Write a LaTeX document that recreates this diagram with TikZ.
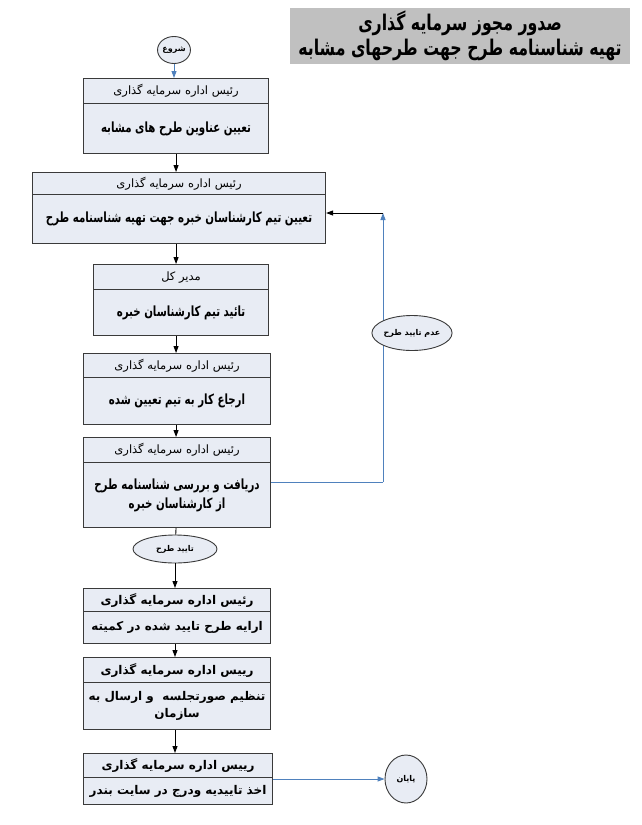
\documentclass[tikz,border=0pt]{standalone}
\usepackage{fontspec}
\newfontfamily\fa[Script=Arabic]{DejaVu Sans}
\newfontfamily\fan[Script=Arabic,FakeStretch=0.73]{DejaVu Sans}
\TeXXeTstate=1
\usetikzlibrary{arrows.meta,shapes.geometric}
\definecolor{boxfill}{HTML}{E8ECF4}
\definecolor{edge}{HTML}{3A3A3A}
\definecolor{flow}{HTML}{4F81BD}
\definecolor{titlegray}{HTML}{C0C0C0}
\newcommand\rl[1]{\beginR #1\endR}
\begin{document}
\begin{tikzpicture}[x=1pt,y=-1pt,
  cell/.style={draw=edge, fill=boxfill, line width=1.1pt, rectangle, inner sep=0pt,
    anchor=north west, align=center},
  hdr/.style={cell, font=\fa\fontsize{11.5}{15}\selectfont},
  hdrb/.style={cell, font=\fa\bfseries\fontsize{12}{15}\selectfont},
  body/.style={cell, font=\fan\bfseries\fontsize{14}{19}\selectfont},
  bodyb/.style={cell, font=\fa\bfseries\fontsize{12}{17}\selectfont},
  oval/.style={ellipse, draw=edge, fill=boxfill, line width=0.9pt, inner sep=0pt,
    font=\fa\bfseries\fontsize{8}{10}\selectfont},
  link/.style={draw=black, line width=0.9pt},
  arr/.style={link, -{Triangle[length=7pt,width=5pt]}},
  blink/.style={draw=flow, line width=0.9pt},
  barr/.style={blink, -{Triangle[length=7pt,width=5pt]}}
]
\useasboundingbox (0,0) rectangle (642,825);
\fill[white] (0,0) rectangle (642,825);

% title
\node[fill=titlegray, minimum width=340pt, minimum height=56pt, inner sep=0pt,
  align=center, font=\fan\bfseries\fontsize{21.6}{25}\selectfont] (title) at (460,36)
  {\rl{صدور مجوز سرمایه گذاری}\\ \rl{تهیه شناسنامه طرح جهت طرحهای مشابه}};

% start
\node[oval, minimum width=28pt, minimum height=27pt] (start) at (174,50) {\rl{شروع}};

% box 1
\node[hdr, minimum width=185pt, minimum height=25pt] (b1h) at (83,78) {\rl{رئیس اداره سرمایه گذاری}};
\node[body, minimum width=185pt, minimum height=50pt] (b1) at (83,103) {\rl{تعیین عناوین طرح های مشابه}};
% box 2
\node[hdr, minimum width=293pt, minimum height=22pt] (b2h) at (32,172) {\rl{رئیس اداره سرمایه گذاری}};
\node[body, minimum width=293pt, minimum height=49pt] (b2) at (32,194) {\rl{تعیین تیم کارشناسان خبره جهت تهیه شناسنامه طرح}};
% box 3
\node[hdr, minimum width=175pt, minimum height=25pt] (b3h) at (93,264) {\rl{مدیر کل}};
\node[body, minimum width=175pt, minimum height=46pt] (b3) at (93,289) {\rl{تائید تیم کارشناسان خبره}};
% box 4
\node[hdr, minimum width=187pt, minimum height=24pt] (b4h) at (83,353) {\rl{رئیس اداره سرمایه گذاری}};
\node[body, minimum width=187pt, minimum height=47pt] (b4) at (83,377) {\rl{ارجاع کار به تیم تعیین شده}};
% box 5
\node[hdr, minimum width=187pt, minimum height=25pt] (b5h) at (83,437) {\rl{رئیس اداره سرمایه گذاری}};
\node[body, minimum width=187pt, minimum height=65pt] (b5) at (83,462) {\rl{دریافت و بررسی شناسنامه طرح}\\ \rl{از کارشناسان خبره}};
% approve oval
\node[oval, minimum width=84pt, minimum height=28pt] (ok) at (175,549) {\rl{تایید طرح}};
% box 6
\node[hdrb, minimum width=187pt, minimum height=23pt] (b6h) at (83,588) {\rl{رئیس اداره سرمایه گذاری}};
\node[bodyb, minimum width=187pt, minimum height=32pt] (b6) at (83,611) {\rl{ارایه طرح تایید شده در کمیته}};
% box 7
\node[hdrb, minimum width=187pt, minimum height=25pt] (b7h) at (83,657) {\rl{رییس اداره سرمایه گذاری}};
\node[bodyb, minimum width=187pt, minimum height=47pt] (b7) at (83,682) {\rl{تنظیم صورتجلسه \ و ارسال به}\\ \rl{سازمان}};
% box 8
\node[hdrb, minimum width=189pt, minimum height=24pt] (b8h) at (83,753) {\rl{رییس اداره سرمایه گذاری}};
\node[bodyb, minimum width=189pt, minimum height=27pt] (b8) at (83,777) {\rl{اخذ تاییدیه ودرج در سایت بندر}};
% end
\node[oval, minimum width=42pt, minimum height=48pt] (end) at (406,779) {\rl{پایان}};

% reject loop
\coordinate (lb) at (383,482);
\coordinate (lt) at (383,213);
\draw[blink] (b5.east |- lb) -- (lb);
\draw[barr] (lb) -- (lt);
\draw[arr] (lt) -- (b2.east |- lt);
\node[oval, minimum width=69pt, minimum height=35pt] (rej) at (412,333) {\rl{عدم تایید طرح}};

% main flow
\draw[barr] (start) -- (start |- b1h.north);
\draw[arr] (b1.south) -- (b1.south |- b2h.north);
\draw[arr] (b1.south |- b2.south) -- (b1.south |- b3h.north);
\draw[arr] (b1.south |- b3.south) -- (b1.south |- b4h.north);
\draw[arr] (b1.south |- b4.south) -- (b1.south |- b5h.north);
\draw[link] (b1.south |- b5.south) -- (ok);
\draw[arr] (ok) -- (ok |- b6h.north);
\draw[arr] (ok |- b6.south) -- (ok |- b7h.north);
\draw[arr] (ok |- b7.south) -- (ok |- b8h.north);
\draw[barr] (b8.east |- end) -- (end);
\end{tikzpicture}
\end{document}
